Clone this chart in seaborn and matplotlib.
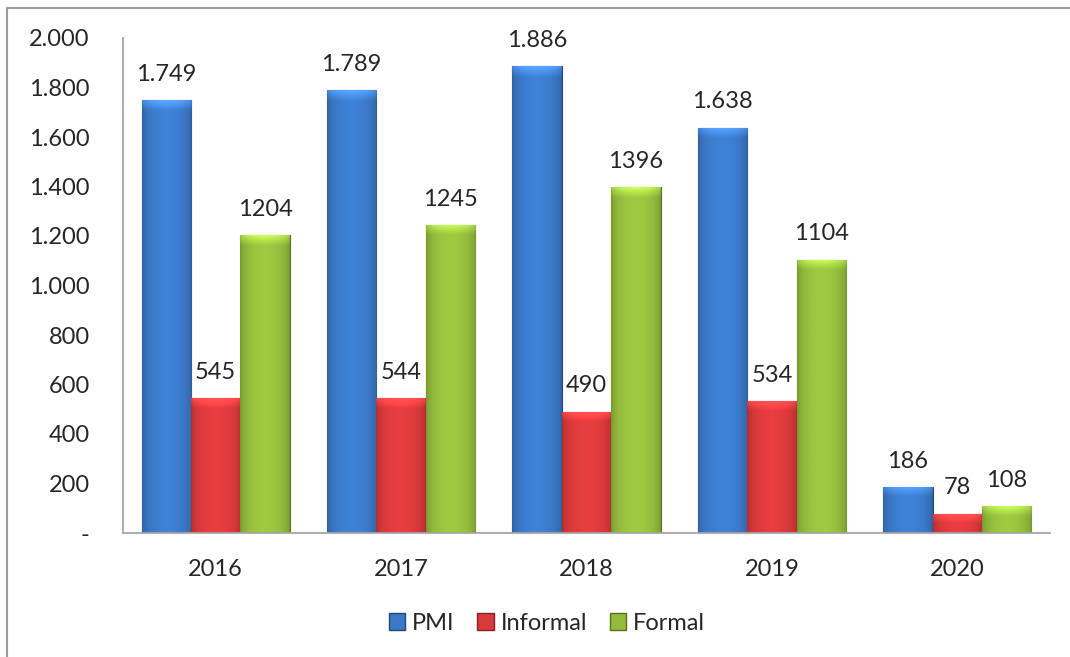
"""
Balkendiagramm PMI / Informal / Formal 2016-2020 (Nachbau im Excel-Stil).
"""

import numpy as np
import pandas as pd
import matplotlib
matplotlib.use("Agg")
import matplotlib.pyplot as plt
from matplotlib.lines import Line2D
from matplotlib.colors import to_rgb
import seaborn as sns

# Daten
years = ["2016", "2017", "2018", "2019", "2020"]
series_names = ["PMI", "Informal", "Formal"]
pmi = [1749, 1789, 1886, 1638, 186]
informal = [545, 544, 490, 534, 78]
formal = [1204, 1245, 1396, 1104, 108]
y_ticks = [0, 200, 400, 600, 800, 1000, 1200, 1400, 1600, 1800, 2000]

colors = {"PMI": "#3b78c6", "Informal": "#d8393b", "Formal": "#93bb3c"}


def fmt_thousands(v):
    # Tausender mit Punkt, 0 als Strich (wie in Excel)
    if v == 0:
        return "-"
    return f"{v:,.0f}".replace(",", ".")


df = pd.DataFrame({
    "year": years * 3,
    "series": [s for s in series_names for _ in years],
    "value": pmi + informal + formal,
})

sns.set_style("white")
plt.rcParams["font.family"] = ["Lato", "DejaVu Sans"]
plt.rcParams["font.size"] = 17

fig = plt.figure(figsize=(10.7, 6.57), dpi=100)
ax = fig.add_axes([123 / 1070, 1 - 533 / 657, 927 / 1070, 495 / 657])

sns.barplot(data=df, x="year", y="value", hue="series", hue_order=series_names,
            palette=colors, width=0.80, saturation=1, ax=ax, legend=False)

# Zylinder-Look: horizontaler Verlauf + weiche helle Kante oben
xs = np.linspace(0, 1, 60)
shade = 0.80 + 0.28 * np.sin(np.pi * xs) ** 0.5
for bar in list(ax.patches):
    base = np.array(to_rgb(bar.get_facecolor()))
    x0, w, h = bar.get_x(), bar.get_width(), bar.get_height()
    rows = 300
    ys = np.linspace(h, 0, rows)
    img = np.clip(shade[None, :, None] * base[None, None, :], 0, 1).repeat(rows, axis=0)
    ramp = np.clip(1 - (h - ys) / 40.0, 0, 1)[:, None, None]
    img = np.clip(img * (1 + 0.22 * ramp) + 0.04 * ramp, 0, 1)
    im = ax.imshow(img, extent=[x0, x0 + w, 0, h], aspect="auto",
                   zorder=bar.get_zorder() + 0.1, interpolation="bilinear")
    im.set_clip_path(bar)
    bar.set_edgecolor(tuple(base * 0.6))
    bar.set_linewidth(0.8)

# Datenbeschriftungen
label_sets = [[fmt_thousands(v) for v in pmi],
              [str(v) for v in informal],
              [str(v) for v in formal]]
for cont, labels in zip(ax.containers, label_sets):
    ax.bar_label(cont, labels=labels, padding=11, fontsize=17, zorder=5)

ax.set_xlim(-0.5, 4.5)
ax.set_ylim(0, 2000)
ax.set_yticks(y_ticks)
ax.set_yticklabels([fmt_thousands(v) for v in y_ticks])
ax.set_xlabel("")
ax.set_ylabel("")
ax.tick_params(axis="y", length=0, pad=24)
ax.tick_params(axis="x", length=0, pad=19)

for side in ["top", "right"]:
    ax.spines[side].set_visible(False)
for side in ["left", "bottom"]:
    ax.spines[side].set_color("#a6a6a6")
    ax.spines[side].set_linewidth(1.3)

# Legende unten
handles = [plt.Rectangle((0, 0), 1, 1, facecolor=colors[s], edgecolor=tuple(np.array(to_rgb(colors[s])) * 0.6))
           for s in series_names]
fig.legend(handles, series_names, loc="center", bbox_to_anchor=(547 / 1070, 1 - 623 / 657),
           ncol=3, frameon=False, handlelength=0.7, handleheight=0.7,
           handletextpad=0.3, columnspacing=0.95, fontsize=17)

# Rahmen (nur links und oben sichtbar)
fig.add_artist(Line2D([7 / 1070, 7 / 1070, 1.0], [0.0, 1 - 8 / 657, 1 - 8 / 657],
                      transform=fig.transFigure, color="#9c9c9c", lw=1.5))

fig.savefig("out.png", dpi=100)
